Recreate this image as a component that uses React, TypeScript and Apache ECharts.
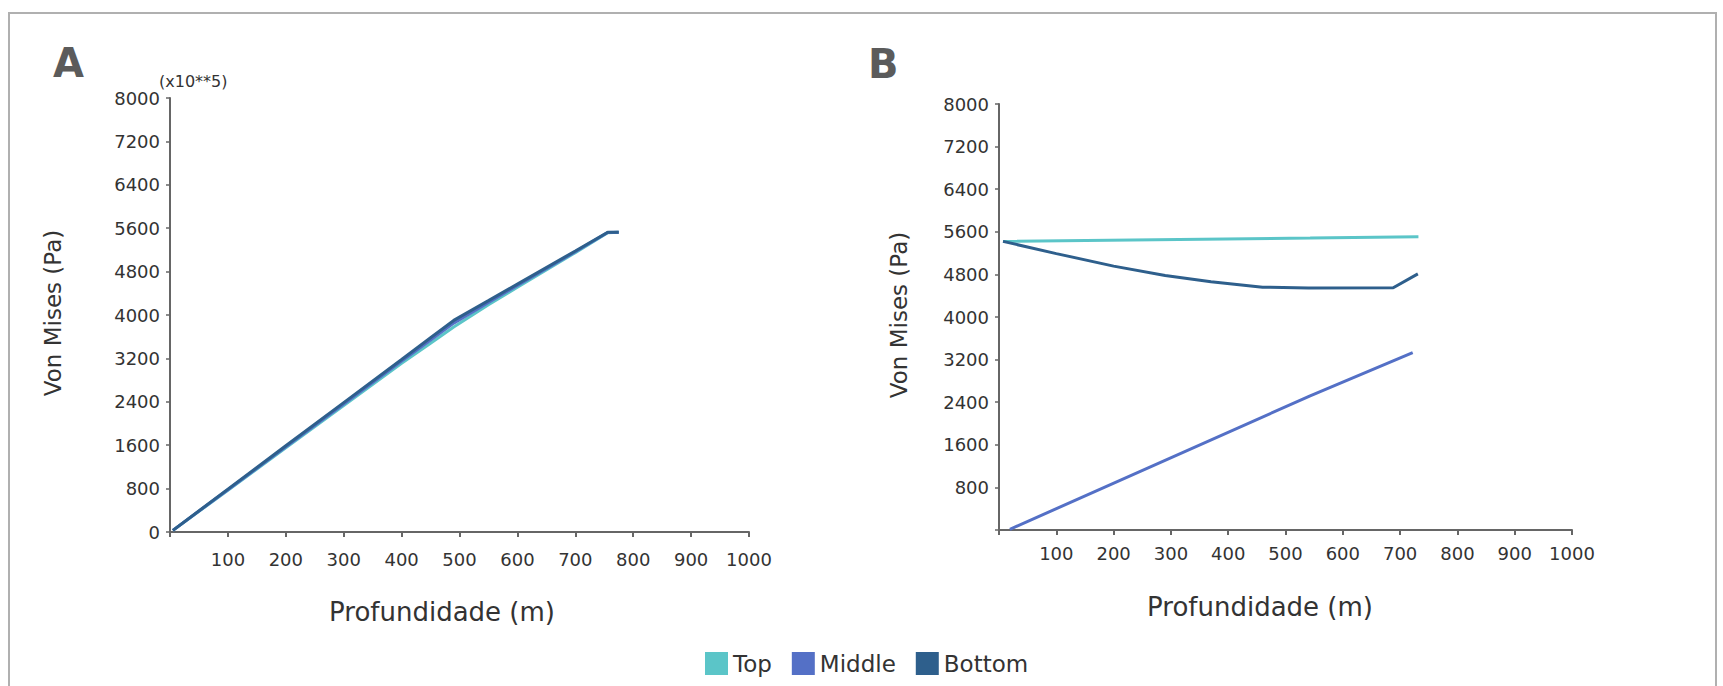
import React, { useEffect, useRef } from "react";
import * as echarts from "echarts";

// ---- Data ----
const seriesNames = ["Top", "Middle", "Bottom"];
const seriesColors = ["#5bc5c8", "#5470c6", "#2e5f8c"];

// Panel A
const depthA = [5, 100, 200, 300, 400, 450, 490, 550, 600, 700, 756, 775];
const topA = [30, 770, 1550, 2330, 3110, 3480, 3780, 4190, 4510, 5150, 5515, 5525];
const middleA = [30, 780, 1570, 2360, 3150, 3540, 3850, 4230, 4545, 5165, 5520, 5525];
const bottomA = [30, 790, 1590, 2385, 3180, 3580, 3900, 4265, 4570, 5180, 5525, 5525];

// Panel B
const depthBTop = [7, 543, 732];
const topB = [5420, 5483, 5508];
const depthBMiddle = [19, 543, 722];
const middleB = [13, 2519, 3333];
const depthBBottom = [7, 100, 200, 290, 370, 460, 540, 688, 731];
const bottomB = [5420, 5190, 4955, 4780, 4660, 4560, 4545, 4550, 4810];

// Axis settings
const yMin = 0;
const yMax = 8000;
const yStep = 800;
const xMin = 0;
const xMax = 1000;
const xStep = 100;

const FONT = "DejaVu Sans";

function pairs(xs: number[], ys: number[]) {
  return xs.map((x, i) => [x, ys[i]]);
}

export default function App() {
  const ref = useRef<HTMLDivElement>(null);

  useEffect(() => {
    if (!ref.current) return;
    const chart = echarts.init(ref.current, null, { renderer: "svg" });

    const axisLineStyle = { color: "#666", width: 2 };
    const mkX = (gridIndex: number, margin: number) => ({
      type: "value",
      gridIndex,
      min: xMin,
      max: xMax,
      interval: xStep,
      splitLine: { show: false },
      axisLine: { show: true, lineStyle: axisLineStyle },
      axisTick: { show: true, length: 5, lineStyle: { color: "#666", width: 2 } },
      axisLabel: {
        margin,
        color: "#333",
        fontSize: 18,
        fontFamily: FONT,
        formatter: (v: number) => (v === 0 ? "" : String(v)),
      },
    });
    const mkY = (gridIndex: number, showZero: boolean) => ({
      type: "value",
      gridIndex,
      min: yMin,
      max: yMax,
      interval: yStep,
      splitLine: { show: false },
      axisLine: { show: true, lineStyle: axisLineStyle },
      axisTick: { show: true, length: 4, lineStyle: { color: "#666", width: 1.5 } },
      axisLabel: {
        margin: 10,
        color: "#333",
        fontSize: 18,
        fontFamily: FONT,
        formatter: (v: number) => (v === 0 && !showZero ? "" : String(v)),
      },
    });

    const lineSeries = (
      name: string,
      color: string,
      data: number[][],
      gi: number
    ) => ({
      name,
      type: "line",
      xAxisIndex: gi,
      yAxisIndex: gi,
      data,
      showSymbol: false,
      symbol: "none",
      lineStyle: { color, width: 3 },
      itemStyle: { color },
    });

    const textCommon = { fontFamily: FONT, fill: "#333" };

    chart.setOption({
      animation: false,
      backgroundColor: "#ffffff",
      grid: [
        { left: 170, top: 98, width: 579, height: 434 },
        { left: 999, top: 104, width: 573, height: 426 },
      ],
      xAxis: [mkX(0, 18), mkX(1, 14)],
      yAxis: [mkY(0, true), mkY(1, false)],
      legend: {
        data: seriesNames,
        left: 700,
        top: 647,
        icon: "rect",
        itemWidth: 23,
        itemHeight: 23,
        itemGap: 20,
        textStyle: { fontSize: 23, color: "#333", fontFamily: FONT },
      },
      series: [
        lineSeries(seriesNames[0], seriesColors[0], pairs(depthA, topA), 0),
        lineSeries(seriesNames[1], seriesColors[1], pairs(depthA, middleA), 0),
        lineSeries(seriesNames[2], seriesColors[2], pairs(depthA, bottomA), 0),
        lineSeries(seriesNames[0], seriesColors[0], pairs(depthBTop, topB), 1),
        lineSeries(seriesNames[1], seriesColors[1], pairs(depthBMiddle, middleB), 1),
        lineSeries(seriesNames[2], seriesColors[2], pairs(depthBBottom, bottomB), 1),
      ],
      graphic: [
        {
          type: "rect",
          shape: { x: 9, y: 13, width: 1707, height: 720 },
          style: { fill: "none", stroke: "#b0b0b0", lineWidth: 2 },
          silent: true,
        },
        {
          type: "text",
          x: 53,
          y: 63,
          style: {
            text: "A",
            fontSize: 40,
            fontWeight: "bold",
            fontFamily: FONT,
            fill: "#5b5b5b",
            textVerticalAlign: "middle",
          },
        },
        {
          type: "text",
          x: 868,
          y: 64,
          style: {
            text: "B",
            fontSize: 40,
            fontWeight: "bold",
            fontFamily: FONT,
            fill: "#5b5b5b",
            textVerticalAlign: "middle",
          },
        },
        {
          type: "text",
          x: 159,
          y: 81,
          style: { ...textCommon, text: "(x10**5)", fontSize: 16, textVerticalAlign: "middle" },
        },
        {
          type: "text",
          x: 53,
          y: 313,
          rotation: Math.PI / 2,
          style: {
            ...textCommon,
            text: "Von Mises (Pa)",
            fontSize: 23,
            textAlign: "center",
            textVerticalAlign: "middle",
          },
        },
        {
          type: "text",
          x: 899,
          y: 315,
          rotation: Math.PI / 2,
          style: {
            ...textCommon,
            text: "Von Mises (Pa)",
            fontSize: 23,
            textAlign: "center",
            textVerticalAlign: "middle",
          },
        },
        {
          type: "text",
          x: 442,
          y: 612,
          style: {
            ...textCommon,
            text: "Profundidade (m)",
            fontSize: 26,
            textAlign: "center",
            textVerticalAlign: "middle",
          },
        },
        {
          type: "text",
          x: 1260,
          y: 607,
          style: {
            ...textCommon,
            text: "Profundidade (m)",
            fontSize: 26,
            textAlign: "center",
            textVerticalAlign: "middle",
          },
        },
      ],
    });

    return () => chart.dispose();
  }, []);

  return (
    <div
      ref={ref}
      style={{ position: "fixed", left: 0, top: 0, width: 1723, height: 686 }}
    />
  );
}
